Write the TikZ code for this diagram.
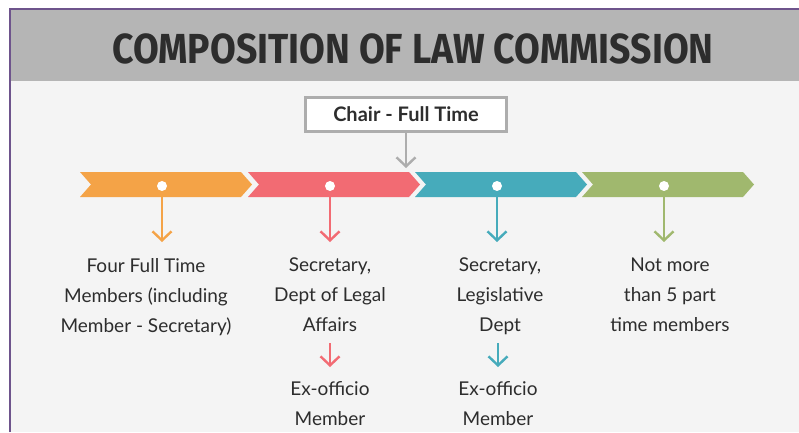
\documentclass[tikz,border=0pt]{standalone}
\usepackage{fontspec}
\setmainfont{Lato}
\newfontfamily\titlefont{Fira Sans}
\usetikzlibrary{arrows.meta,positioning}
\definecolor{pagegrey}{RGB}{244,244,244}
\definecolor{bandgrey}{RGB}{181,181,181}
\definecolor{framepurple}{RGB}{110,84,140}
\definecolor{boxgrey}{RGB}{173,173,173}
\definecolor{inkgrey}{RGB}{45,45,45}
\definecolor{laworange}{RGB}{244,163,71}
\definecolor{lawred}{RGB}{242,107,115}
\definecolor{lawteal}{RGB}{70,171,187}
\definecolor{lawgreen}{RGB}{160,184,110}

\begin{document}
\begin{tikzpicture}[
  x=1pt,y=-1pt,
  >={Straight Barb[length=9pt,width=19pt]},
  label/.style={font=\fontsize{19}{30}\selectfont,text=inkgrey,align=center,inner sep=0pt,
    execute at begin node=\strut},
  dot/.style={circle,fill=white,inner sep=0pt,minimum size=10pt},
  drop/.style={->,line width=2.4pt},
  chairbox/.style={draw=boxgrey,line width=3pt,fill=white,minimum width=201pt,minimum height=34pt,
    font=\fontsize{20}{22}\selectfont\bfseries,text=inkgrey}
]
  % page, frame and title band
  \useasboundingbox (0,0) rectangle (799,432);
  \fill[white] (0,0) rectangle (799,432);
  \fill[pagegrey] (10,9) rectangle (799,432);
  \fill[bandgrey] (11,10) rectangle (799,81);
  \draw[framepurple,line width=2pt] (10,432) -- (10,9) -- (799,9);
  \node[font=\titlefont\bfseries\fontsize{42}{46}\selectfont,text=inkgrey] (title) at (413,49)
    {\scalebox{0.89}[1]{COMPOSITION OF LAW COMMISSION}};

  % chair
  \node[chairbox] (chair) at (406,114) {Chair - Full Time};
  \coordinate (join) at (406,168);
  \draw[drop,boxgrey] (chair) -- (join);

  % chevron band
  \foreach \x/\col/\i in {80/laworange/1,248/lawred/2,415/lawteal/3,582/lawgreen/4}{
    \fill[\col] (\x,172) -- (\x+161,172) -- (\x+172,184.5) -- (\x+161,197) -- (\x,197) -- (\x+11,184.5) -- cycle;
    \node[dot] (d\i) at (\x+82,186) {};
  }

  % texts
  \node[label,anchor=north] (t1) at (146,258) {Four Full Time\\Members (including\\Member - Secretary)};
  \node[label,anchor=north] (t2) at (330,258) {Secretary,\\Dept of Legal\\Affairs};
  \node[label,anchor=north] (t3) at (500,258) {Secretary,\\Legislative\\Dept};
  \node[label,anchor=north] (t4) at (670,258) {Not more\\than 5 part\\time members};
  \node[label,anchor=north] (e2) at (330,381) {Ex-officio\\Member};
  \node[label,anchor=north] (e3) at (498,381) {Ex-officio\\Member};

  % arrows
  \draw[drop,laworange,shorten >=16pt] (d1) -- (d1 |- t1.north);
  \draw[drop,lawred,shorten >=16pt] (d2) -- (d2 |- t2.north);
  \draw[drop,lawteal,shorten >=16pt] (d3) -- (d3 |- t3.north);
  \draw[drop,lawgreen,shorten >=16pt] (d4) -- (d4 |- t4.north);
  \draw[drop,lawred,shorten <=2pt,shorten >=14pt] (t2.south) -- (e2.north);
  \draw[drop,lawteal,shorten <=2pt,shorten >=14pt] (e3.north |- t2.south) -- (e3.north);
\end{tikzpicture}
\end{document}
